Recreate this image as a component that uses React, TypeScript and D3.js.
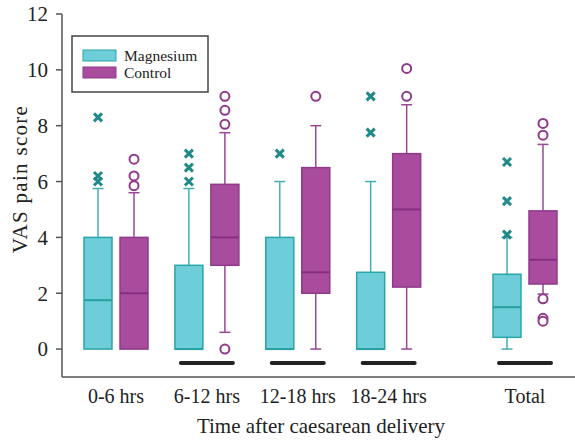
import React, { useEffect, useRef } from 'react';
import * as d3 from 'd3';

const groups = ['0-6 hrs', '6-12 hrs', '12-18 hrs', '18-24 hrs', 'Total'];
const yTicks = [0, 2, 4, 6, 8, 10, 12];

// Magnesium
const magLow = [0, 0, 0, 0, 0];
const magQ1 = [0, 0, 0, 0, 0.42];
const magMedian = [1.75, 0, 0, 0, 1.5];
const magQ3 = [4, 3, 4, 2.75, 2.68];
const magHigh = [5.75, 5.75, 6, 6, 4.0];
const magOutliers = [[8.3, 6.2, 6.0], [7, 6.5, 6], [7], [9.05, 7.75], [6.7, 5.3, 4.1]];

// Control
const ctrlLow = [0, 0.6, 0, 0, 1.97];
const ctrlQ1 = [0, 3, 2, 2.22, 2.33];
const ctrlMedian = [2, 4, 2.75, 5, 3.2];
const ctrlQ3 = [4, 5.9, 6.5, 7, 4.95];
const ctrlHigh = [5.6, 7.75, 8, 8.75, 7.33];
const ctrlOutliers = [[6.8, 6.2, 5.85], [9.05, 8.55, 8.05, 0], [9.05], [10.05, 9.05], [8.08, 7.66, 1.8, 1.1, 1.0]];

// significance bars under groups
const significant = [false, true, true, true, true];

const FONT = '"Liberation Serif", "DejaVu Serif", serif';

const App = () => {
  const ref = useRef<SVGSVGElement>(null);

  useEffect(() => {
    const svg = d3.select(ref.current);
    svg.selectAll('*').remove();

    const axisX = 62, axisBottom = 377;
    const y = d3.scaleLinear().domain([-1, 12]).range([377, 14]);
    // Total sits a half step further away from the others
    const slot = (i: number) => (i < 4 ? i : i + 0.5);
    const x = d3.scaleLinear().domain([0, 4.5]).range([116, 525]);

    const boxW = 28, off = 18, capW = 11;

    const series = [
      { name: 'Magnesium', fill: '#6dcdd9', stroke: '#2ba5a6', whisker: '#45aeb0', median: '#26a0a1', mark: '#1f8a87', shift: -off,
        low: magLow, q1: magQ1, med: magMedian, q3: magQ3, high: magHigh, out: magOutliers, shape: 'x' },
      { name: 'Control', fill: '#a94c9e', stroke: '#8f3b89', whisker: '#9a4894', median: '#862f80', mark: '#8f3b89', shift: off,
        low: ctrlLow, q1: ctrlQ1, med: ctrlMedian, q3: ctrlQ3, high: ctrlHigh, out: ctrlOutliers, shape: 'o' },
    ];

    // axes
    const axis = svg.append('g').attr('stroke', '#555').attr('stroke-width', 1.5);
    axis.append('line').attr('x1', axisX).attr('x2', axisX).attr('y1', y(12)).attr('y2', axisBottom);
    axis.append('line').attr('x1', axisX).attr('x2', 575).attr('y1', axisBottom).attr('y2', axisBottom);
    axis.selectAll('line.tick').data(yTicks).enter().append('line')
      .attr('class', 'tick')
      .attr('x1', axisX - 6).attr('x2', axisX)
      .attr('y1', d => y(d)).attr('y2', d => y(d));

    svg.append('g').selectAll('text').data(yTicks).enter().append('text')
      .attr('x', 48).attr('y', d => y(d)).attr('dy', '0.35em')
      .attr('text-anchor', 'end')
      .style('font-family', FONT).style('font-size', '21px').attr('fill', '#222')
      .text(d => d);

    svg.append('text')
      .attr('transform', `translate(20,179) rotate(-90)`)
      .attr('text-anchor', 'middle').attr('dy', '0.35em')
      .style('font-family', FONT).style('font-size', '21px').style('letter-spacing', '1.3px').attr('fill', '#222')
      .text('VAS pain score');

    svg.append('g').selectAll('text').data(groups).enter().append('text')
      .attr('x', (d, i) => x(slot(i))).attr('y', 403)
      .attr('text-anchor', 'middle')
      .style('font-family', FONT).style('font-size', '20px').attr('fill', '#222')
      .text(d => d);

    svg.append('text')
      .attr('x', 321).attr('y', 433)
      .attr('text-anchor', 'middle')
      .style('font-family', FONT).style('font-size', '21px').attr('fill', '#222')
      .text('Time after caesarean delivery');

    // significance bars
    svg.append('g').selectAll('rect').data(groups.map((g, i) => i).filter(i => significant[i])).enter().append('rect')
      .attr('x', i => x(slot(i)) - 28).attr('y', 361)
      .attr('width', 56).attr('height', 4).attr('rx', 2)
      .attr('fill', '#222');

    series.forEach(s => {
      const g = svg.append('g');
      groups.forEach((name, i) => {
        const cx = x(slot(i)) + s.shift;
        // whiskers
        g.append('line').attr('x1', cx).attr('x2', cx).attr('y1', y(s.q3[i])).attr('y2', y(s.high[i]))
          .attr('stroke', s.whisker).attr('stroke-width', 1.5);
        g.append('line').attr('x1', cx - capW / 2).attr('x2', cx + capW / 2).attr('y1', y(s.high[i])).attr('y2', y(s.high[i]))
          .attr('stroke', s.whisker).attr('stroke-width', 1.5);
        if (s.low[i] < s.q1[i]) {
          g.append('line').attr('x1', cx).attr('x2', cx).attr('y1', y(s.q1[i])).attr('y2', y(s.low[i]))
            .attr('stroke', s.whisker).attr('stroke-width', 1.5);
          g.append('line').attr('x1', cx - capW / 2).attr('x2', cx + capW / 2).attr('y1', y(s.low[i])).attr('y2', y(s.low[i]))
            .attr('stroke', s.whisker).attr('stroke-width', 1.5);
        }
        // box
        g.append('rect')
          .attr('x', cx - boxW / 2).attr('y', y(s.q3[i]))
          .attr('width', boxW).attr('height', y(s.q1[i]) - y(s.q3[i]))
          .attr('fill', s.fill).attr('stroke', s.stroke).attr('stroke-width', 1.5);
        g.append('line').attr('x1', cx - boxW / 2).attr('x2', cx + boxW / 2)
          .attr('y1', y(s.med[i])).attr('y2', y(s.med[i]))
          .attr('stroke', s.median).attr('stroke-width', 2);
        // outliers
        s.out[i].forEach(v => {
          if (s.shape === 'x') {
            const r = 4;
            g.append('path')
              .attr('d', `M${cx - r},${y(v) - r}L${cx + r},${y(v) + r}M${cx - r},${y(v) + r}L${cx + r},${y(v) - r}`)
              .attr('stroke', s.mark).attr('stroke-width', 3);
          } else {
            g.append('circle').attr('cx', cx).attr('cy', y(v)).attr('r', 4.5)
              .attr('fill', 'white').attr('stroke', s.mark).attr('stroke-width', 2);
          }
        });
      });
    });

    // legend
    const legend = svg.append('g');
    legend.append('rect').attr('x', 72).attr('y', 36).attr('width', 136).attr('height', 56)
      .attr('fill', 'white').attr('stroke', '#444').attr('stroke-width', 1.5);
    series.forEach((s, i) => {
      legend.append('rect').attr('x', 83).attr('y', 50 + i * 17).attr('width', 33).attr('height', 11)
        .attr('fill', s.fill).attr('stroke', s.stroke).attr('stroke-width', 1);
      legend.append('text').attr('x', 124).attr('y', 55.5 + i * 17).attr('dy', '0.35em')
        .style('font-family', FONT).style('font-size', '15.5px').attr('fill', '#222')
        .text(s.name);
    });
  }, []);

  return (
    <svg ref={ref} width={575} height={440}
      style={{ position: 'absolute', left: 0, top: 0, background: 'white' }} />
  );
};

export default App;
